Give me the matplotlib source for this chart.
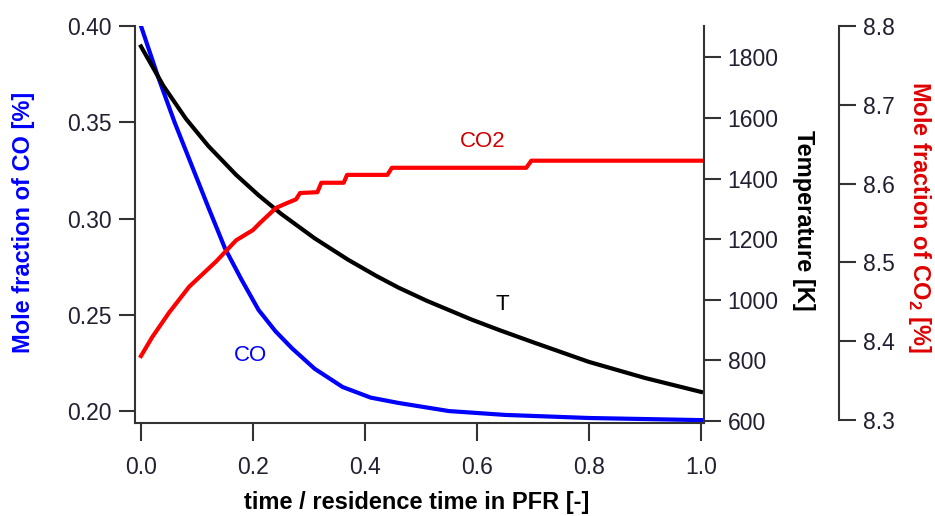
import numpy as np
import matplotlib.pyplot as plt

plt.rcParams['font.family'] = ['Liberation Sans', 'DejaVu Sans']
plt.rcParams['mathtext.fontset'] = 'custom'
plt.rcParams['mathtext.rm'] = 'Liberation Sans'
plt.rcParams['mathtext.bf'] = 'Liberation Sans:bold'

# CO mole fraction [%] vs. time / residence time
co_x = [0.0, 0.03, 0.06, 0.09, 0.12, 0.15, 0.18, 0.21, 0.24, 0.27,
        0.31, 0.36, 0.41, 0.46, 0.55, 0.65, 0.8, 1.0]
co_y = [0.400, 0.374, 0.350, 0.328, 0.306, 0.2845, 0.268, 0.2525, 0.2415, 0.2325,
        0.222, 0.2125, 0.207, 0.2042, 0.200, 0.198, 0.1964, 0.1953]

# temperature [K]
t_x = [0.0, 0.04, 0.08, 0.12, 0.17, 0.21, 0.25, 0.31, 0.37, 0.42, 0.46,
       0.51, 0.59, 0.64, 0.7, 0.8, 0.9, 1.0]
t_y = [1836, 1706, 1598, 1508, 1412, 1345, 1284, 1203, 1132, 1079, 1040,
       997, 935, 900, 860, 795, 742, 696]

# CO2 mole fraction [%]
co2_x = [0.0, 0.02, 0.05, 0.086, 0.134, 0.17, 0.2, 0.2125, 0.241, 0.26, 0.277,
         0.284, 0.315, 0.322, 0.362, 0.368, 0.44, 0.448, 0.688, 0.697, 1.0]
co2_y = [8.381, 8.405, 8.436, 8.469, 8.501, 8.528, 8.541, 8.55, 8.569, 8.575, 8.580,
         8.588, 8.589, 8.601, 8.601, 8.611, 8.611, 8.620, 8.620, 8.629, 8.629]

x_ticks = [0.0, 0.2, 0.4, 0.6, 0.8, 1.0]
x_labels = ['0.0', '0.2', '0.4', '0.6', '0.8', '1.0']
co_ticks = [0.20, 0.25, 0.30, 0.35, 0.40]
co_labels = ['0.20', '0.25', '0.30', '0.35', '0.40']
t_ticks = [600, 800, 1000, 1200, 1400, 1600, 1800]
co2_ticks = [8.3, 8.4, 8.5, 8.6, 8.7, 8.8]
co2_labels = ['8.3', '8.4', '8.5', '8.6', '8.7', '8.8']

tick_col = '#202030'
spine_col = '#333333'
tick_fs = 16.5
label_fs = 17

fig = plt.figure(figsize=(9.35, 5.16), dpi=100)
ax = fig.add_axes([135/935, 93/516, 569/935, 397/516])
ax2 = ax.twinx()
ax3 = ax.twinx()
ax3.spines['right'].set_position(('outward', 135*0.72))

ax.plot(co_x, co_y, color='#0000ff', lw=3)
ax2.plot(t_x, t_y, color='black', lw=3)
ax3.plot(co2_x, co2_y, color='#ff0000', lw=3)

ax.set_xlim(-0.0107, 1.0054)
ax.set_ylim(0.1938, 0.40)
ax2.set_ylim(593.4, 1903.5)
ax3.set_ylim(8.296, 8.8)

ax.set_xticks(x_ticks, x_labels)
ax.set_yticks(co_ticks, co_labels)
ax2.set_yticks(t_ticks, [str(t) for t in t_ticks])
ax3.set_yticks(co2_ticks, co2_labels)

for s in ['top', 'right']:
    ax.spines[s].set_visible(False)
for a in [ax2, ax3]:
    for s in ['top', 'left', 'bottom']:
        a.spines[s].set_visible(False)
ax3.spines['right'].set_bounds(8.3, 8.8)
for a in [ax, ax2, ax3]:
    for s in a.spines.values():
        s.set_linewidth(1.5)
        s.set_color(spine_col)

ax.tick_params(axis='x', length=13, width=1.5, pad=11, labelsize=tick_fs,
               color=spine_col, labelcolor=tick_col)
ax.tick_params(axis='y', length=11.5, width=1.5, pad=5, labelsize=tick_fs,
               color=spine_col, labelcolor=tick_col)
for a in [ax2, ax3]:
    a.tick_params(axis='y', length=12, width=1.5, pad=5, labelsize=tick_fs,
                  color=spine_col, labelcolor=tick_col)

ax.set_xlabel('time / residence time in PFR [-]', fontsize=label_fs, fontweight='bold',
              va='center')
ax.xaxis.set_label_coords(0.4956, -0.2015)
ax.set_ylabel('Mole fraction of CO [%]', fontsize=label_fs, fontweight='bold',
              color='#0000ff', va='center')
ax.yaxis.set_label_coords(-0.1968, 0.506)
ax2.set_ylabel('Temperature [K]', fontsize=label_fs, fontweight='bold', rotation=270,
               va='center')
ax2.yaxis.set_label_coords(1.174, 0.511)
ax3.set_ylabel('Mole fraction of CO$_\\mathbf{2}$ [%]', fontsize=label_fs, fontweight='bold',
               color='#e00000', rotation=270, va='center')
ax3.yaxis.set_label_coords(1.3796, 0.52)

ax.text(0.196, 0.229, 'CO', color='#0000ff', fontsize=16, ha='center', va='center')
ax3.text(0.611, 8.653, 'CO2', color='#d00000', fontsize=16, ha='center', va='center')
ax2.text(0.645, 983, 'T', color='black', fontsize=16, ha='center', va='center')

fig.savefig('out.png', dpi=100)
